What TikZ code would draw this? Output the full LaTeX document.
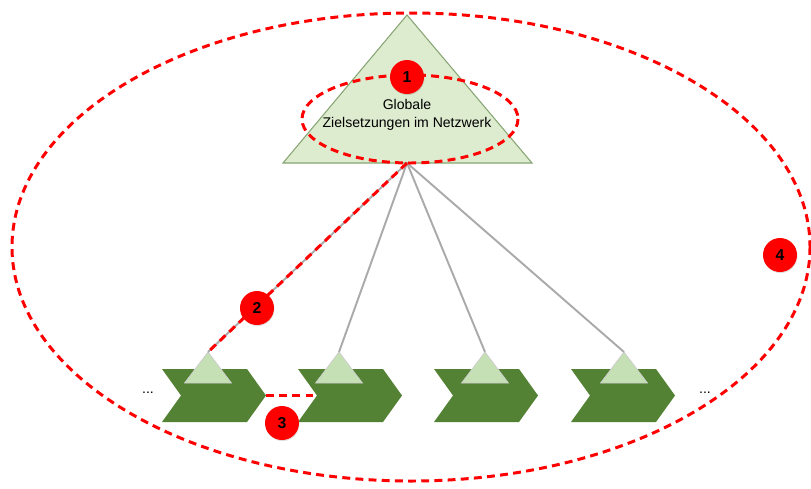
\documentclass[tikz,border=0pt]{standalone}
\usepackage{fontspec}
\setmainfont{Liberation Sans}
\usetikzlibrary{shadows}

\definecolor{chevgreen}{RGB}{84,130,53}
\definecolor{lightgreen}{RGB}{197,224,180}
\definecolor{palegreen}{RGB}{221,235,207}
\definecolor{edgegreen}{RGB}{135,165,115}
\definecolor{linegray}{RGB}{170,170,170}
\definecolor{markred}{RGB}{255,0,0}

\begin{document}
\begin{tikzpicture}[x=0.02cm,y=-0.02cm,
  chevron/.style={fill=chevgreen},
  smalltri/.style={fill=lightgreen,draw=linegray!60,line width=0.4pt},
  bigtri/.style={fill=palegreen,draw=edgegreen,line width=0.6pt},
  link/.style={draw=linegray,line width=1.1pt},
  reddash/.style={draw=markred,line width=1.7pt,dash pattern=on 4.5pt off 3pt},
  badge/.style={circle,fill=markred,minimum size=0.68cm,inner sep=0pt,
    font=\bfseries\fontsize{9}{10}\selectfont,
    drop shadow={opacity=0.25,shadow xshift=0.3pt,shadow yshift=-0.6pt}},
  dots/.style={font=\fontsize{8}{9}\selectfont}]
  \useasboundingbox (0,0) rectangle (811,488);

  % Draw top triangle
  \filldraw[bigtri] (283,163) -- (407,15) -- (532,163) -- cycle;
  \coordinate (base) at (407,163);
  \node[align=center,font=\fontsize{8}{10}\selectfont] (goal) at (407,115)
    {Globale\\Zielsetzungen im Netzwerk};

  % Draw chevrons with small triangles
  \foreach \x/\a [count=\i] in {162/208, 298/339, 434/485, 571/624} {
    \fill[chevron] (\x,369) -- ++(85,0) -- ++(19,26.5) -- ++(-19,26.5)
      -- ++(-85,0) -- ++(19,-26.5) -- cycle;
    \coordinate (tip\i) at (\x+104,395.5);
    \coordinate (notch\i) at (\x+19,395.5);
    \filldraw[smalltri] (\a-23.5,383) -- (\a,352) -- (\a+23.5,383) -- cycle;
    \coordinate (apex\i) at (\a,352);
  }

  % Links from the goal to the units
  \foreach \i in {1,...,4}
    \draw[link] (base) -- (apex\i);
  \draw[reddash] (base) -- (apex1);
  \draw[reddash] (tip1) -- (notch2);

  % Ellipses
  \draw[reddash] (410,119) ellipse [x radius=108,y radius=44];
  \draw[reddash] (411,247) ellipse [x radius=399,y radius=234];

  % Dots
  \node[dots] (left) at (148,393) {...};
  \node[dots] (right) at (705,393) {...};

  % Markers
  \node[badge] (m1) at (407,77) {1};
  \node[badge] (m2) at (257,308) {2};
  \node[badge] (m3) at (282,423) {3};
  \node[badge] (m4) at (780,255) {4};
\end{tikzpicture}
\end{document}
